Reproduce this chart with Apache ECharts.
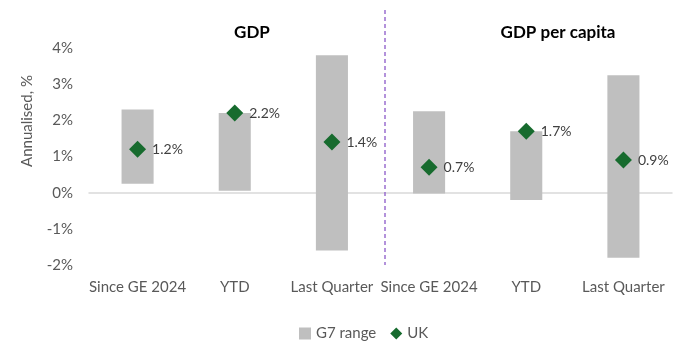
<!DOCTYPE html>
<html>
<head>
<meta charset="utf-8">
<script src="https://cdn.jsdelivr.net/npm/echarts@6/dist/echarts.min.js"></script>
<style>
  html, body { margin: 0; padding: 0; background: #fff; }
  #chart { width: 696px; height: 352px; }
</style>
</head>
<body>
<div id="chart"></div>
<script>
// categories: GDP block then GDP per capita block
const categories = ["Since GE 2024", "YTD", "Last Quarter", "Since GE 2024 ", "YTD ", "Last Quarter "];
const g7Low = [0.25, 0.05, -1.6, -0.02, -0.2, -1.8];
const g7High = [2.3, 2.2, 3.8, 2.25, 1.7, 3.25];
const ukValues = [1.2, 2.2, 1.4, 0.7, 1.7, 0.9];

const fontFamily = "Lato, 'Liberation Sans', sans-serif";
const chart = echarts.init(document.getElementById("chart"));

const rangeData = categories.map((c, i) => [i, g7Low[i], g7High[i]]);

const option = {
  animation: false,
  textStyle: { fontFamily: fontFamily },
  title: [
    { text: "GDP", left: 247, top: 19, textAlign: "center",
      textStyle: { fontSize: 17, fontWeight: "bold", color: "#000", fontFamily: fontFamily } },
    { text: "GDP per capita", left: 553, top: 19, textAlign: "center",
      textStyle: { fontSize: 17, fontWeight: "bold", color: "#000", fontFamily: fontFamily } }
  ],
  legend: {
    bottom: 6,
    left: 294,
    itemWidth: 12,
    itemHeight: 12,
    itemGap: 14,
    textStyle: { color: "#595959", fontSize: 15, fontFamily: fontFamily },
    data: [
      { name: "G7 range", icon: "rect", itemStyle: { color: "#bfbfbf" } },
      { name: "UK", icon: "diamond", itemStyle: { color: "#176b2e", opacity: 1 } }
    ]
  },
  grid: { left: 89, right: 24, top: 48, bottom: 87 },
  xAxis: {
    type: "category",
    data: categories,
    axisLine: { lineStyle: { color: "#d9d9d9", width: 1.5 } },
    axisTick: { show: false },
    axisLabel: {
      interval: 0,
      color: "#595959", fontSize: 15, fontFamily: fontFamily, margin: 15,
      formatter: v => v.trim()
    }
  },
  yAxis: {
    type: "value",
    min: -2,
    max: 4,
    interval: 1,
    splitLine: { show: false },
    axisLine: { show: false },
    axisTick: { show: false },
    axisLabel: { color: "#595959", fontSize: 15, fontFamily: fontFamily, margin: 16, formatter: v => v + "%" }
  },
  series: [
    {
      name: "G7 range",
      type: "custom",
      data: rangeData,
      encode: { x: 0, y: [1, 2] },
      renderItem: function (params, api) {
        const x = api.value(0);
        const lo = api.coord([x, api.value(1)]);
        const hi = api.coord([x, api.value(2)]);
        const w = api.size([1, 0])[0] * 0.33;
        return {
          type: "rect",
          shape: { x: lo[0] - w / 2, y: hi[1], width: w, height: lo[1] - hi[1] },
          style: { fill: "#bfbfbf" }
        };
      },
      z: 1
    },
    {
      name: "UK",
      type: "scatter",
      data: ukValues,
      symbol: "diamond",
      symbolSize: 17,
      itemStyle: { color: "#176b2e", opacity: 1 },
      label: {
        show: true,
        position: "right",
        distance: 6,
        color: "#404040",
        fontSize: 14,
        fontFamily: fontFamily,
        formatter: p => p.value.toFixed(1) + "%"
      },
      z: 3
    }
  ]
};
chart.setOption(option);

// dashed divider between the two blocks + rotated axis title
const p2 = chart.convertToPixel({ xAxisIndex: 0 }, categories[2]);
const p3 = chart.convertToPixel({ xAxisIndex: 0 }, categories[3]);
const divX = Math.round(p2 + (p3 - p2) * 0.55);
const yBottom = chart.convertToPixel({ yAxisIndex: 0 }, -2);
chart.setOption({
  graphic: [
    {
      type: "line",
      shape: { x1: divX, y1: 10, x2: divX, y2: yBottom },
      style: { stroke: "#9b6fd0", lineWidth: 1.5, lineDash: [4, 3] },
      z: 10
    },
    {
      type: "text",
      x: 27,
      y: 121,
      rotation: Math.PI / 2,
      style: {
        text: "Annualised, %",
        fill: "#595959",
        font: "15px " + fontFamily,
        textAlign: "center",
        textVerticalAlign: "middle"
      }
    }
  ]
});
</script>
</body>
</html>
